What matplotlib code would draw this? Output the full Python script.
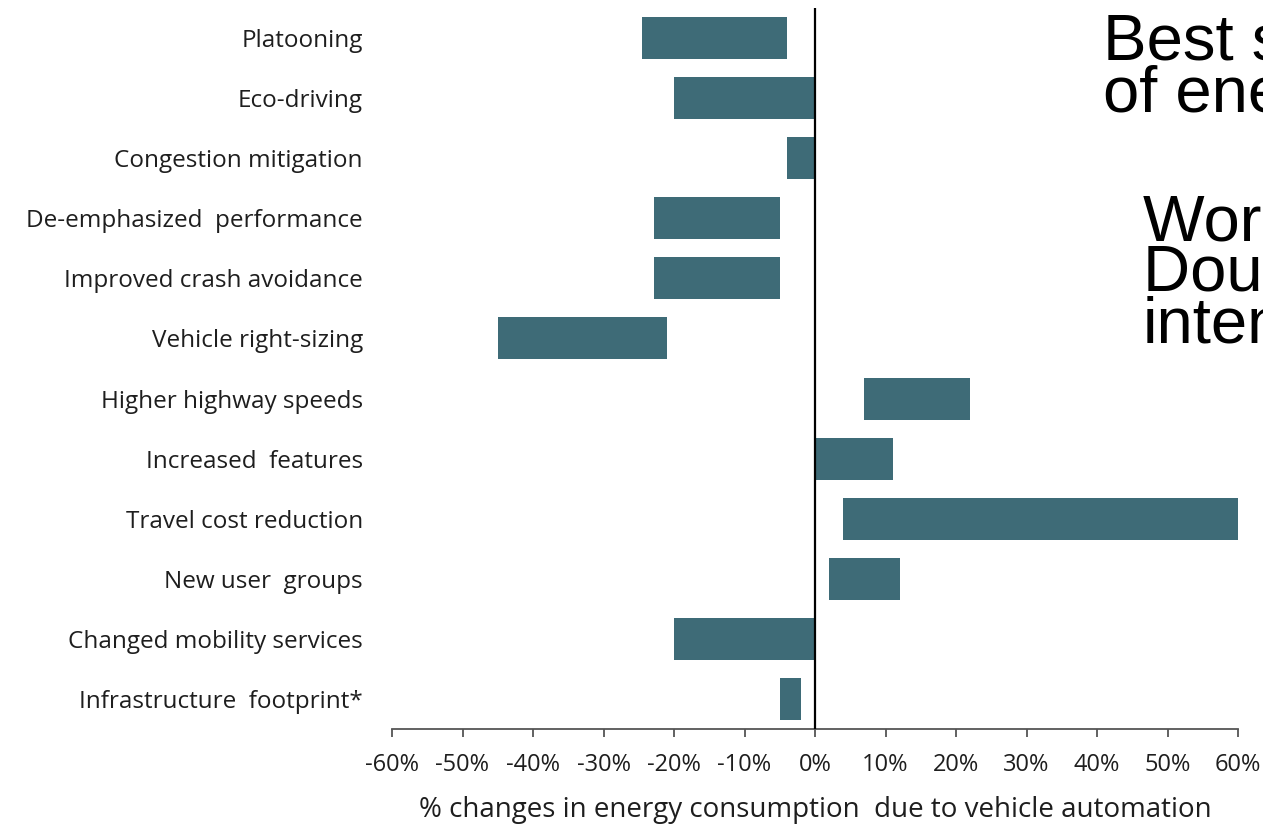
import matplotlib
matplotlib.use("Agg")
import matplotlib.pyplot as plt
from matplotlib.ticker import FuncFormatter

# categories, top to bottom
categories = ["Platooning", "Eco-driving", "Congestion mitigation",
              "De-emphasized  performance", "Improved crash avoidance",
              "Vehicle right-sizing", "Higher highway speeds",
              "Increased  features", "Travel cost reduction",
              "New user  groups", "Changed mobility services",
              "Infrastructure  footprint*"]
# range of % change in energy consumption (low, high)
low = [-24.5, -20, -4, -22.8, -22.8, -45, 7, 0, 4, 2, -20, -5]
high = [-4, 0, 0, -5, -5, -21, 22, 11, 60, 12, 0, -2]
xticks = [-60, -50, -40, -30, -20, -10, 0, 10, 20, 30, 40, 50, 60]

bar_color = "#3e6b77"
text_color = "#1e1e1e"
label_font = "Open Sans"

fig = plt.figure(figsize=(12.63, 8.30), dpi=100)
ax = fig.add_axes([392 / 1263, (830 - 729) / 830, (1238 - 392) / 1263, (729 - 8) / 830])

ypos = list(range(len(categories)))
widths = [h - l for l, h in zip(low, high)]
ax.barh(ypos, widths, left=low, height=0.7, color=bar_color)

ax.set_ylim(len(categories) - 0.5, -0.5)
ax.set_xlim(-60, 60)
ax.axvline(0, color="black", lw=1.6, zorder=3)

ax.set_yticks(ypos)
ax.set_yticklabels(categories, fontsize=17.5, family=label_font, color=text_color)
ax.tick_params(axis="y", length=0, pad=21)

ax.set_xticks(xticks)
ax.xaxis.set_major_formatter(FuncFormatter(lambda v, p: "%d%%" % v))
ax.tick_params(axis="x", direction="out", length=6, width=1.3, color="#555555",
               labelsize=17, labelcolor=text_color, pad=11)
for lab in ax.get_xticklabels():
    lab.set_family(label_font)

for side in ["top", "right", "left"]:
    ax.spines[side].set_visible(False)
ax.spines["bottom"].set_color("#555555")
ax.spines["bottom"].set_linewidth(1.3)

ax.set_xlabel("% changes in energy consumption  due to vehicle automation",
              fontsize=20, family=label_font, color=text_color, labelpad=14)

# overlay text from the slide, cut off at the right edge
big = dict(fontsize=47, family="Liberation Sans", color="black", va="baseline", ha="left")
fig.text(1103 / 1263, 1 - 60 / 830, "Best scenario:", **big)
fig.text(1103 / 1263, 1 - 112 / 830, "of energy use", **big)
fig.text(1143 / 1263, 1 - 240 / 830, "Worst scenario:", **big)
fig.text(1143 / 1263, 1 - 291 / 830, "Doubling of energy", **big)
fig.text(1143 / 1263, 1 - 343 / 830, "intensity", **big)

fig.savefig("out.png", dpi=100)
